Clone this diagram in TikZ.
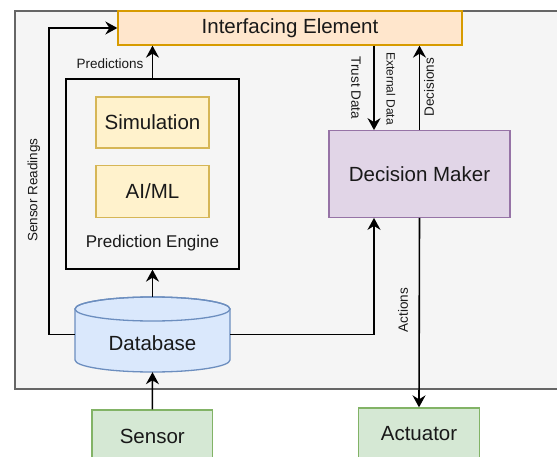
\documentclass[tikz,border=0pt]{standalone}
\usepackage{fontspec}
\setmainfont{Liberation Sans}
\usetikzlibrary{arrows.meta}

\definecolor{panelfill}{HTML}{F5F5F5}
\definecolor{panelline}{HTML}{666666}
\definecolor{orangefill}{HTML}{FFE6CC}
\definecolor{orangeline}{HTML}{D79B00}
\definecolor{yellowfill}{HTML}{FFF2CC}
\definecolor{yellowline}{HTML}{D6B656}
\definecolor{bluefill}{HTML}{DAE8FC}
\definecolor{blueline}{HTML}{6C8EBF}
\definecolor{purplefill}{HTML}{E1D5E7}
\definecolor{purpleline}{HTML}{9673A6}
\definecolor{greenfill}{HTML}{D5E8D4}
\definecolor{greenline}{HTML}{82B366}

\begin{document}
\begin{tikzpicture}[x=1pt,y=-1pt,
  box/.style={draw, line width=1.3pt, inner sep=0pt, text=black!90,
    font=\fontsize{20.5}{24}\selectfont},
  flow/.style={draw=black, line width=1.6pt,
    -{Stealth[length=12pt,width=13pt,inset=4pt]}},
  lbl/.style={font=\fontsize{13.5}{16}\selectfont, inner sep=0pt, text=black!90}]

\clip (0,0) rectangle (557,457);
\fill[white] (0,0) rectangle (557,457);

% system boundary
\draw[fill=panelfill, draw=panelline, line width=1.4pt] (15,11) rectangle (600,389);

% main blocks
\node[box, fill=orangefill, draw=orangeline, minimum width=344, minimum height=34]
  (ie) at (290,28) {Interfacing Element};
\node[box, fill=panelfill, draw=black, minimum width=173, minimum height=190]
  (pe) at (152.5,174) {};
\node[font=\fontsize{17}{20}\selectfont, text=black!90] (pelabel) at (152.5,243) {Prediction Engine};
\node[box, fill=yellowfill, draw=yellowline, minimum width=113, minimum height=51]
  (sim) at (152.5,122.5) {Simulation};
\node[box, fill=yellowfill, draw=yellowline, minimum width=113, minimum height=52]
  (aiml) at (152.5,191.5) {AI/ML};
\node[box, fill=purplefill, draw=purpleline, minimum width=181, minimum height=86.5]
  (dm) at (419.5,174) {Decision Maker};
\node[box, fill=greenfill, draw=greenline, minimum width=120.5, minimum height=52]
  (sensor) at (152.3,436) {Sensor};
\node[box, fill=greenfill, draw=greenline, minimum width=120.5, minimum height=52]
  (act) at (419,434) {Actuator};

% database cylinder
\node[minimum width=155, minimum height=75, inner sep=0pt] (db) at (152.5,334.5) {};
\filldraw[fill=bluefill, draw=blueline, line width=1.3pt]
  (75,309) -- (75,360)
  arc[start angle=180, end angle=360, x radius=77.5pt, y radius=12pt]
  -- (230,309)
  arc[start angle=0, end angle=180, x radius=77.5pt, y radius=12pt] -- cycle;
\draw[blueline, line width=1.3pt] (152.5,309) ellipse[x radius=77.5pt, y radius=12pt];
\node[font=\fontsize{20.5}{24}\selectfont, text=black!90] (dblabel) at (152.5,343.5) {Database};

% connectors
\coordinate (tin) at ([xshift=-45.5pt]dm.north);
\coordinate (tout) at ([xshift=-45.5pt]dm.south);

\draw[flow] (sensor.north) -- (db.south);
\draw[flow] (db.north) -- (pe.south);
\draw[flow] (pe.north) -- (pe.north |- ie.south);
\draw[flow] (db.west) -- ++(-26,0) |- (ie.west);
\draw[flow] (db.east) -| (tout);
\draw[flow] (tin |- ie.south) -- (tin);
\draw[flow] (dm.north) -- (dm.north |- ie.south);
\draw[flow] (dm.south) -- (act.north);

% connector labels
\node[lbl] at (110,64) {Predictions};
\node[lbl, rotate=90] at (34,190) {Sensor Readings};
\node[lbl, rotate=-90] at (356,88) {Trust Data};
\node[lbl, rotate=-90, font=\fontsize{12}{14}\selectfont] at (391,88.5) {External Data};
\node[lbl, rotate=90] at (429,87) {Decisions};
\node[lbl, rotate=90] at (403,310) {Actions};
\end{tikzpicture}
\end{document}
